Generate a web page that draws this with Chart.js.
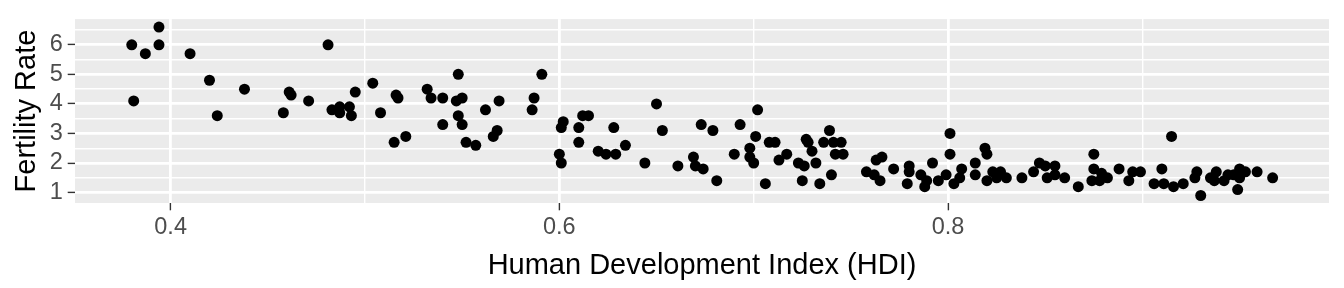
<!DOCTYPE html>
<html>
<head>
<meta charset="utf-8">
<script src="https://cdn.jsdelivr.net/npm/chart.js@4/dist/chart.umd.min.js"></script>
<style>
  html, body { margin: 0; padding: 0; background: #fff; }
</style>
</head>
<body>
<canvas id="c" width="1344" height="288"></canvas>
<script>
// HDI vs fertility rate, one point per country
const hdi = [
  0.380,0.387,0.394,0.394,0.381,0.410,0.420,0.424,0.438,0.481,
  0.461,0.462,0.458,0.471,0.483,0.487,0.487,0.492,0.493,0.495,
  0.504,0.508,0.516,0.517,0.515,0.521,0.532,0.534,0.540,0.540,
  0.548,0.547,0.550,0.548,0.550,0.552,0.557,0.562,0.569,0.566,
  0.568,0.591,0.587,0.586,0.600,0.601,0.601,0.602,0.610,0.610,
  0.612,0.615,0.620,0.624,0.629,0.628,0.634,0.644,0.650,0.653,
  0.661,0.669,0.670,0.674,0.673,0.679,0.681,0.690,0.693,0.698,
  0.698,0.700,0.701,0.702,0.706,0.708,0.711,0.713,0.717,0.723,
  0.726,0.727,0.728,0.730,0.725,0.732,0.734,0.739,0.736,0.741,
  0.745,0.742,0.746,0.740,0.758,0.762,0.763,0.766,0.765,0.772,
  0.780,0.780,0.779,0.786,0.788,0.789,0.792,0.795,0.801,0.801,
  0.799,0.803,0.807,0.806,0.814,0.814,0.819,0.820,0.820,0.823,
  0.827,0.825,0.830,0.838,0.844,0.847,0.850,0.855,0.851,0.855,
  0.860,0.867,0.875,0.875,0.879,0.874,0.878,0.882,0.888,0.895,
  0.899,0.893,0.915,0.910,0.906,0.911,0.916,0.921,0.928,0.927,
  0.930,0.935,0.938,0.937,0.942,0.944,0.947,0.950,0.953,0.950,
  0.949,0.959,0.967
];
const fertility = [
  6.0,5.7,6.6,6.0,4.1,5.7,4.8,3.6,4.5,6.0,
  4.4,4.3,3.7,4.1,3.8,3.9,3.7,3.9,3.6,4.4,
  4.7,3.7,4.3,4.2,2.7,2.9,4.5,4.2,4.2,3.3,
  5.0,4.1,4.2,3.6,3.3,2.7,2.6,3.8,4.1,2.9,
  3.1,5.0,4.2,3.8,2.3,2.0,3.2,3.4,3.2,2.7,
  3.6,3.6,2.4,2.3,2.3,3.2,2.6,2.0,4.0,3.1,
  1.9,2.2,1.9,1.8,3.3,3.1,1.4,2.3,3.3,2.5,
  2.2,2.0,2.9,3.8,1.3,2.7,2.7,2.1,2.3,2.0,
  1.9,2.8,2.7,2.4,1.4,2.0,1.3,3.1,2.7,2.7,
  2.7,2.3,2.3,1.6,1.7,1.6,2.1,2.2,1.4,1.8,
  1.9,1.7,1.3,1.6,1.2,1.4,2.0,1.4,3.0,2.3,
  1.6,1.3,1.8,1.5,2.0,1.6,2.5,2.3,1.4,1.7,
  1.7,1.5,1.5,1.5,1.7,2.0,1.9,1.9,1.5,1.6,
  1.5,1.2,2.3,1.8,1.65,1.4,1.4,1.5,1.8,1.7,
  1.7,1.4,2.9,1.8,1.3,1.3,1.2,1.3,1.7,1.5,
  0.9,1.5,1.7,1.4,1.4,1.6,1.6,1.8,1.7,1.5,
  1.1,1.7,1.5
];

const xMajor = [0.4, 0.6, 0.8];
const xMinor = [0.5, 0.7, 0.9];
const yMajor = [1, 2, 3, 4, 5, 6];
const yMinor = [1.5, 2.5, 3.5, 4.5, 5.5, 6.5];

const points = hdi.map((v, i) => ({ x: v, y: fertility[i] }));

// grey panel behind the grid
const panelBg = {
  id: 'panelBg',
  beforeDraw(chart) {
    const a = chart.chartArea;
    const ctx = chart.ctx;
    ctx.save();
    ctx.fillStyle = '#EBEBEB';
    ctx.fillRect(a.left, a.top, a.right - a.left, a.bottom - a.top);
    ctx.restore();
  }
};

function isMajor(list, v) {
  return list.some(m => Math.abs(m - v) < 1e-9);
}

const tickFont = { family: '"Liberation Sans", Arial, sans-serif', size: 23.5 };
const titleFont = { family: '"Liberation Sans", Arial, sans-serif', size: 29 };

new Chart(document.getElementById('c'), {
  type: 'scatter',
  data: {
    datasets: [{
      data: points,
      backgroundColor: '#000',
      borderWidth: 0,
      pointRadius: 5.5,
      pointHoverRadius: 5.5
    }]
  },
  options: {
    responsive: false,
    animation: false,
    devicePixelRatio: 1,
    layout: { padding: { top: 15, right: 15, left: 0, bottom: 0 } },
    plugins: { legend: { display: false }, tooltip: { enabled: false } },
    scales: {
      x: {
        type: 'linear',
        min: 0.3508,
        max: 0.996,
        afterBuildTicks: s => { s.ticks = xMajor.concat(xMinor).map(v => ({ value: v })); },
        afterFit: s => { s.height = 85; },
        border: { display: false },
        grid: {
          color: '#fff',
          lineWidth: c => isMajor(xMajor, c.tick.value) ? 2.8 : 1.4,
          tickColor: c => isMajor(xMajor, c.tick.value) ? '#333333' : 'rgba(0,0,0,0)',
          tickWidth: 1.4,
          tickLength: 7.3
        },
        ticks: {
          color: '#4D4D4D',
          font: tickFont,
          padding: 3,
          maxRotation: 0,
          autoSkip: false,
          callback: v => isMajor(xMajor, v) ? String(v) : ''
        },
        title: {
          display: true,
          text: 'Human Development Index (HDI)',
          color: '#000',
          font: titleFont,
          padding: { top: 0, bottom: 5 }
        }
      },
      y: {
        type: 'linear',
        min: 0.646,
        max: 6.87,
        afterBuildTicks: s => { s.ticks = yMajor.concat(yMinor).map(v => ({ value: v })); },
        afterFit: s => { s.width = 75; },
        border: { display: false },
        grid: {
          color: '#fff',
          lineWidth: c => isMajor(yMajor, c.tick.value) ? 2.8 : 1.4,
          tickColor: c => isMajor(yMajor, c.tick.value) ? '#333333' : 'rgba(0,0,0,0)',
          tickWidth: 1.4,
          tickLength: 7.3
        },
        ticks: {
          color: '#4D4D4D',
          font: tickFont,
          padding: 5,
          autoSkip: false,
          callback: v => isMajor(yMajor, v) ? String(v) : ''
        },
        title: {
          display: true,
          text: 'Fertility Rate',
          color: '#000',
          font: titleFont,
          padding: { top: 10, bottom: 0 }
        }
      }
    }
  },
  plugins: [panelBg]
});
</script>
</body>
</html>
